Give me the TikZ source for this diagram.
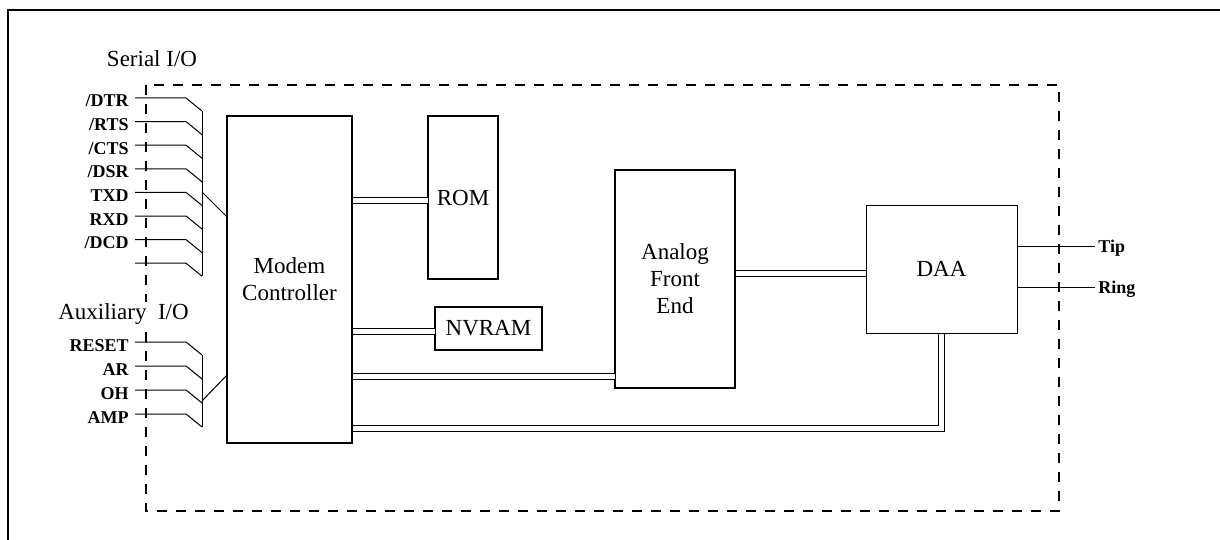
\documentclass[tikz,border=0pt]{standalone}
\usepackage{fontspec}
\setmainfont{Liberation Serif}

\begin{document}
\begin{tikzpicture}[x=0.5pt, y=-0.5pt,
  blockbox/.style={draw, rectangle, line width=1pt, align=center, inner sep=0pt,
    font=\fontsize{11.5}{13.5}\selectfont},
  sigwire/.style={line width=0.5pt},
  buswire/.style={double, double distance=2.6pt, line width=0.6pt},
  siglabel/.style={inner xsep=3pt, inner ysep=0pt, text height=9pt, text depth=0pt,
    font=\fontsize{9}{10}\selectfont\bfseries},
  grouplabel/.style={inner sep=0pt, font=\fontsize{11.5}{13.5}\selectfont}]

  \useasboundingbox (0,0) rectangle (1220,540);

  % outer frame, top and left edge only
  \draw[line width=1pt] (8,540) -- (8,10) -- (1220,10);

  % modem boundary
  \draw[line width=1pt, dash pattern=on 5pt off 4.5pt] (146,85) rectangle (1059,511);

  % blocks
  \node[blockbox, minimum width=62.5pt, minimum height=163.5pt] (modem) at (289.5,279.5) {Modem\\Controller};
  \node[blockbox, minimum width=35pt, minimum height=81.5pt] (rom) at (463,197.5) {ROM};
  \node[blockbox, minimum width=53.5pt, minimum height=21.5pt] (nvram) at (488.5,328.5) {NVRAM};
  \node[blockbox, minimum width=60pt, minimum height=109pt] (afe) at (675,279) {Analog\\Front\\End};
  \node[blockbox, line width=0.5pt, minimum width=75.5pt, minimum height=64pt] (daa) at (941.5,269) {DAA};

  % buses
  \coordinate (romin) at (428,200.5);
  \coordinate (nvin) at (435,331.5);
  \coordinate (afein) at (615,376.5);
  \coordinate (daain) at (866,273.5);
  \coordinate (dbus) at (941.5,428.5);
  \draw[buswire] (modem.east |- romin) -- (romin);
  \draw[buswire] (modem.east |- nvin) -- (nvin);
  \draw[buswire] (modem.east |- afein) -- (afein);
  \draw[buswire] (afe.east |- daain) -- (daain);
  \draw[buswire] (modem.east |- dbus) -| (daa.south);

  % line side
  \node[siglabel, inner xsep=1.5pt, text height=6pt, anchor=west] (tip) at (1095,246) {Tip};
  \node[siglabel, inner xsep=1.5pt, text height=6pt, anchor=west] (ring) at (1095,287) {Ring};
  \draw[sigwire] (daa.east |- tip) -- (tip.west);
  \draw[sigwire] (daa.east |- ring) -- (ring.west);

  % serial port
  \node[grouplabel] (serialio) at (152,59) {Serial I/O};
  \foreach \i/\sig in {0/{/DTR},1/{/RTS},2/{/CTS},3/{/DSR},4/TXD,5/RXD,6/{/DCD},7/{}} {
    \node[siglabel, anchor=east] (ser\i) at (135,98+23.6*\i) {\sig};
    \coordinate (serk\i) at (186,98+23.6*\i);
    \coordinate (serb\i) at (202,111+23.6*\i);
    \draw[sigwire] (ser\i.east) -- (serk\i) -- (serb\i);
  }
  \draw[sigwire] (serb0) -- (serb7);
  \coordinate (serjoin) at (202,192);
  \coordinate (serin) at (227,217);
  \draw[sigwire] (serjoin) -- (serin);

  % auxiliary port
  \node[grouplabel, fill=white, inner sep=1pt] (auxio) at (123.5,314) {Auxiliary\ \ I/O};
  \foreach \i/\sig in {0/RESET,1/AR,2/OH,3/AMP} {
    \node[siglabel, anchor=east] (aux\i) at (135,342+24*\i) {\sig};
    \coordinate (auxk\i) at (186,342+24*\i);
    \coordinate (auxb\i) at (202,355+24*\i);
    \draw[sigwire] (aux\i.east) -- (auxk\i) -- (auxb\i);
  }
  \draw[sigwire] (auxb0) -- (auxb3);
  \coordinate (auxjoin) at (202,401);
  \coordinate (auxin) at (227,375);
  \draw[sigwire] (auxjoin) -- (auxin);
\end{tikzpicture}
\end{document}
